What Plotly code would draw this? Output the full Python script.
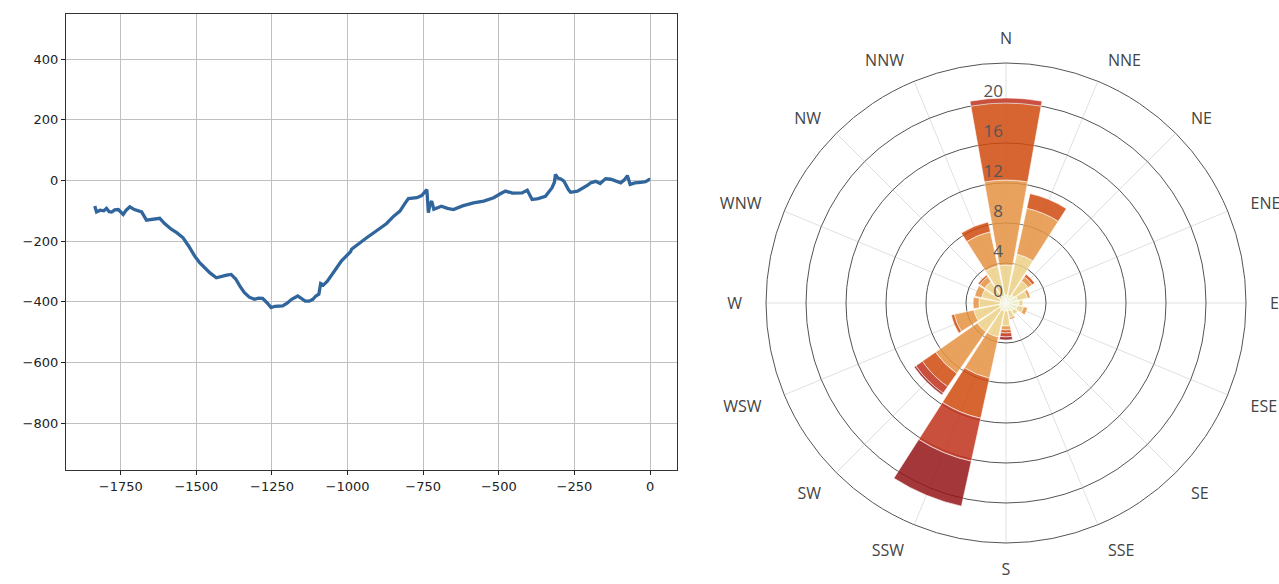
import plotly.graph_objects as go

# ---------------- left: line series ----------------
line_x = [-1836, -1830, -1818, -1806, -1797, -1788, -1780, -1770, -1758, -1748, -1742, -1732,
          -1720, -1705, -1690, -1681, -1665, -1648, -1635, -1621, -1605, -1583, -1565, -1544,
          -1525, -1506, -1490, -1473, -1455, -1434, -1415, -1400, -1385, -1370, -1355, -1341,
          -1325, -1308, -1295, -1281, -1265, -1253, -1240, -1225, -1215, -1200, -1185, -1165,
          -1150, -1140, -1127, -1115, -1105, -1095, -1089, -1080, -1067, -1050, -1036, -1020,
          -1005, -990, -987, -960, -937, -910, -891, -871, -850, -827, -812, -799, -771, -755,
          -738, -735, -733, -728, -722, -715, -705, -690, -670, -650, -620, -584, -550, -517,
          -495, -478, -455, -423, -406, -390, -370, -346, -324, -316, -313, -305, -295, -285,
          -270, -263, -240, -219, -205, -197, -180, -165, -147, -130, -110, -97, -85, -75, -66,
          -50, -31, -15, -3, 0]
line_y = [-84, -104, -98, -100, -92, -103, -104, -97, -96, -108, -112, -98,
          -87, -96, -100, -104, -131, -128, -126, -125, -142, -161, -172, -189,
          -217, -249, -270, -288, -305, -321, -315, -312, -310, -325, -350, -370,
          -385, -392, -388, -389, -405, -419, -415, -416, -414, -405, -392, -381,
          -390, -398, -398, -392, -381, -375, -340, -345, -332, -310, -288, -265,
          -250, -235, -227, -205, -189, -170, -156, -142, -120, -101, -78, -60, -57, -50,
          -30, -70, -106, -80, -68, -95, -90, -85, -92, -96, -84, -74, -68, -57,
          -44, -35, -42, -41, -32, -63, -60, -52, -24, -5, 20, 8, 5, -2,
          -30, -39, -35, -24, -15, -8, -3, -10, 6, 4, -4, -8, 2, 16, -13,
          -8, -6, -4, 3, 2]

x_ticks = [-1750, -1500, -1250, -1000, -750, -500, -250, 0]
y_ticks = [-800, -600, -400, -200, 0, 200, 400]

# ---------------- right: wind rose ----------------
directions = ["N", "NNE", "NE", "ENE", "E", "ESE", "SE", "SSE",
              "S", "SSW", "SW", "WSW", "W", "WNW", "NW", "NNW"]
strength_names = ["A", "B", "C", "D", "E", "F"]
freq_A = [0.8, 0.8, 1.0, 1.2, 1.3, 1.2, 1.0, 0.8, 0.8, 0.8, 0.8, 0.7, 0.6, 0.6, 0.6, 0.7]
freq_B = [3.0, 4.2, 1.7, 1.0, 0.4, 0.6, 0.4, 0.7, 1.5, 2.7, 2.7, 2.6, 2.1, 1.9, 2.0, 3.1]
freq_C = [8.5, 4.7, 0.5, 0.3, 0.0, 0.4, 0.0, 0.2, 0.4, 4.2, 5.1, 2.0, 0.6, 0.7, 0.6, 3.5]
freq_D = [7.7, 1.5, 0.3, 0.0, 0.0, 0.0, 0.0, 0.0, 0.3, 4.1, 1.6, 0.3, 0.0, 0.0, 0.2, 1.0]
freq_E = [0.5, 0.0, 0.0, 0.0, 0.0, 0.0, 0.0, 0.0, 0.4, 4.4, 0.8, 0.0, 0.0, 0.0, 0.0, 0.0]
freq_F = [0.0, 0.0, 0.0, 0.0, 0.0, 0.0, 0.0, 0.0, 0.3, 4.6, 0.2, 0.0, 0.0, 0.0, 0.0, 0.0]
strength_colors = ["#ebedc3", "#ecd186", "#e59442", "#cf4a10", "#c2321e", "#931418"]
radial_ticks = [0, 4, 8, 12, 16, 20]

# label padding (non-breaking spaces) so side labels sit a bit further out
NB = "\u00a0"
pad_count = [0, 1, 1, 2, 2, 2, 1, 1, 0, 1, 1, 2, 2, 2, 1, 1]
angular_text = []
for i, (d, n) in enumerate(zip(directions, pad_count)):
    if 0 < i < 8:
        angular_text.append(NB * n + d)
    elif i > 8:
        angular_text.append(d + NB * n)
    else:
        angular_text.append(d)
radial_text = [f"{v}<br>{NB}" for v in radial_ticks]

W, H = 1279, 584

fig = go.Figure()

fig.add_trace(go.Scatter(
    x=line_x, y=line_y, mode="lines",
    line=dict(color="#30669c", width=3.3),
    showlegend=False, hoverinfo="skip",
))

for name, vals, col in zip(strength_names,
                           [freq_A, freq_B, freq_C, freq_D, freq_E, freq_F],
                           strength_colors):
    fig.add_trace(go.Barpolar(
        r=vals, theta=directions, name=name,
        marker=dict(color=col, line=dict(color="white", width=0.6)),
        opacity=0.85, showlegend=False,
    ))

fig.update_layout(
    width=W, height=H,
    margin=dict(l=0, r=0, t=0, b=0),
    paper_bgcolor="white", plot_bgcolor="white",
    showlegend=False,
    xaxis=dict(
        domain=[66 / W, 677 / W], range=[-1931, 89],
        tickvals=x_ticks, showgrid=True, gridcolor="#c0c0c0", gridwidth=1,
        zeroline=False, showline=True, linecolor="#333", linewidth=1.3, mirror=True,
        ticks="outside", ticklen=4, tickcolor="#222",
        tickfont=dict(family="DejaVu Sans", size=13, color="#222"),
    ),
    yaxis=dict(
        domain=[(H - 470) / H, (H - 14) / H], range=[-955, 549],
        tickvals=y_ticks, showgrid=True, gridcolor="#c0c0c0", gridwidth=1,
        zeroline=False, showline=True, linecolor="#333", linewidth=1.3, mirror=True,
        ticks="outside", ticklen=4, tickcolor="#222",
        tickfont=dict(family="DejaVu Sans", size=13, color="#222"),
    ),
    polar=dict(
        domain=dict(x=[766 / W, 1246 / W], y=[(H - 543) / H, (H - 63) / H]),
        bgcolor="white",
        barmode="stack",
        radialaxis=dict(
            range=[0, 24], tickvals=radial_ticks, ticktext=radial_text,
            showline=False, ticks="",
            angle=90, side="counterclockwise", tickangle=90,
            gridcolor="#555", gridwidth=1,
            tickfont=dict(family="Open Sans", size=17, color="#555"),
        ),
        angularaxis=dict(
            direction="clockwise", rotation=90,
            categoryorder="array", categoryarray=directions,
            tickvals=directions, ticktext=angular_text,
            gridcolor="#e0e0e0", gridwidth=1,
            showline=True, linecolor="#555", linewidth=1,
            ticks="outside", ticklen=12, tickcolor="rgba(0,0,0,0)",
            tickfont=dict(family="Open Sans", size=16, color="#444"),
        ),
    ),
    font=dict(family="Open Sans"),
)

fig.write_html(
    "out.html",
    config={"displayModeBar": False},
    post_script="document.body.style.margin='0';document.body.style.overflow='hidden';",
)
